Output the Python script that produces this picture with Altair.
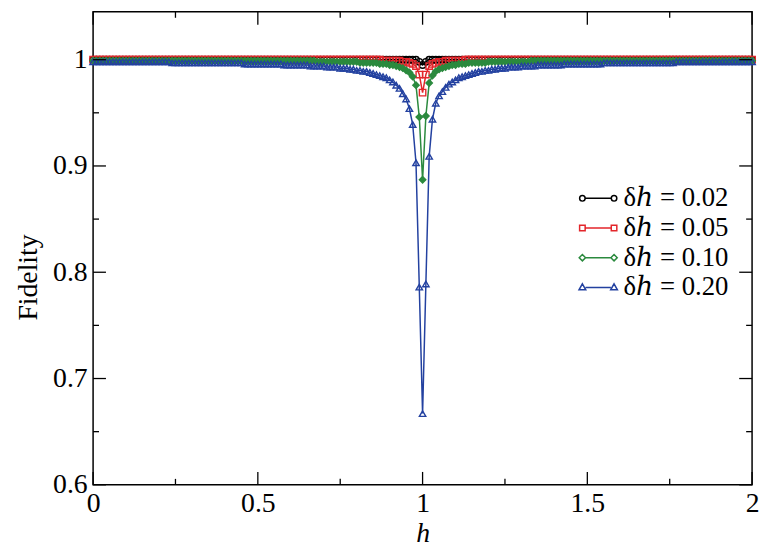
import altair as alt
import pandas as pd
import numpy as np

# x grid (h from 0 to 2 in steps of 0.01)
h_values = np.round(np.arange(201) * 0.01, 2).tolist()

series_labels = ["δℎ = 0.02", "δℎ = 0.05", "δℎ = 0.10", "δℎ = 0.20"]
series_colors = ["#000000", "#e3262b", "#2b8a3e", "#2341a0"]
marker_shapes = ["circle", "square", "diamond", "triangle-up"]
marker_fills = ["transparent", "transparent", "#2b8a3e", "transparent"]

# legend symbols: short line with a marker at both ends
legend_paths = [
    "M-1.32,0L1.32,0M-1.88,0A0.28,0.28 0 1,0 -1.32,0A0.28,0.28 0 1,0 -1.88,0M1.32,0A0.28,0.28 0 1,0 1.88,0A0.28,0.28 0 1,0 1.32,0",
    "M-1.32,0L1.32,0M-1.88,-0.28h0.56v0.56h-0.56ZM1.32,-0.28h0.56v0.56h-0.56Z",
    "M-1.28,0L1.28,0M-1.6,-0.32L-1.28,0L-1.6,0.32L-1.92,0ZM1.6,-0.32L1.92,0L1.6,0.32L1.28,0Z",
    "M-1.28,0L1.28,0M-1.6,-0.36L-1.26,0.24L-1.94,0.24ZM1.6,-0.36L1.94,0.24L1.26,0.24Z",
]

fid_002 = [
    1.0, 1.0, 1.0, 1.0, 1.0, 1.0, 1.0, 1.0, 1.0, 1.0,
    1.0, 1.0, 1.0, 1.0, 1.0, 1.0, 1.0, 1.0, 1.0, 1.0,
    1.0, 1.0, 1.0, 1.0, 1.0, 1.0, 1.0, 1.0, 1.0, 1.0,
    1.0, 1.0, 1.0, 1.0, 1.0, 1.0, 1.0, 1.0, 1.0, 1.0,
    1.0, 1.0, 1.0, 1.0, 1.0, 1.0, 1.0, 1.0, 1.0, 1.0,
    1.0, 1.0, 1.0, 1.0, 1.0, 1.0, 1.0, 1.0, 1.0, 1.0,
    1.0, 1.0, 1.0, 1.0, 1.0, 1.0, 1.0, 1.0, 1.0, 1.0,
    1.0, 1.0, 1.0, 1.0, 1.0, 1.0, 1.0, 1.0, 1.0, 1.0,
    1.0, 1.0, 1.0, 1.0, 1.0, 1.0, 1.0, 1.0, 1.0, 1.0,
    1.0, 1.0, 1.0, 1.0, 1.0, 1.0, 1.0, 1.0, 1.0, 0.998,
    0.995, 0.998, 1.0, 1.0, 1.0, 1.0, 1.0, 1.0, 1.0, 1.0,
    1.0, 1.0, 1.0, 1.0, 1.0, 1.0, 1.0, 1.0, 1.0, 1.0,
    1.0, 1.0, 1.0, 1.0, 1.0, 1.0, 1.0, 1.0, 1.0, 1.0,
    1.0, 1.0, 1.0, 1.0, 1.0, 1.0, 1.0, 1.0, 1.0, 1.0,
    1.0, 1.0, 1.0, 1.0, 1.0, 1.0, 1.0, 1.0, 1.0, 1.0,
    1.0, 1.0, 1.0, 1.0, 1.0, 1.0, 1.0, 1.0, 1.0, 1.0,
    1.0, 1.0, 1.0, 1.0, 1.0, 1.0, 1.0, 1.0, 1.0, 1.0,
    1.0, 1.0, 1.0, 1.0, 1.0, 1.0, 1.0, 1.0, 1.0, 1.0,
    1.0, 1.0, 1.0, 1.0, 1.0, 1.0, 1.0, 1.0, 1.0, 1.0,
    1.0, 1.0, 1.0, 1.0, 1.0, 1.0, 1.0, 1.0, 1.0, 1.0,
    1.0,
]

fid_005 = [
    1.0, 1.0, 1.0, 1.0, 1.0, 1.0, 1.0, 1.0, 1.0, 1.0,
    1.0, 1.0, 1.0, 1.0, 1.0, 1.0, 1.0, 1.0, 1.0, 1.0,
    1.0, 1.0, 1.0, 1.0, 1.0, 1.0, 1.0, 1.0, 1.0, 1.0,
    1.0, 1.0, 1.0, 1.0, 1.0, 1.0, 1.0, 1.0, 1.0, 1.0,
    1.0, 1.0, 1.0, 1.0, 1.0, 1.0, 1.0, 1.0, 1.0, 1.0,
    1.0, 1.0, 1.0, 1.0, 1.0, 1.0, 1.0, 1.0, 1.0, 1.0,
    1.0, 1.0, 1.0, 1.0, 1.0, 1.0, 1.0, 1.0, 1.0, 1.0,
    1.0, 1.0, 1.0, 1.0, 1.0, 1.0, 1.0, 1.0, 1.0, 1.0,
    1.0, 1.0, 1.0, 1.0, 1.0, 1.0, 1.0, 1.0, 0.999, 0.999,
    0.999, 0.999, 0.999, 0.999, 0.998, 0.998, 0.997, 0.996, 0.994, 0.986,
    0.969, 0.986, 0.994, 0.996, 0.997, 0.998, 0.998, 0.999, 0.999, 0.999,
    0.999, 0.999, 0.999, 1.0, 1.0, 1.0, 1.0, 1.0, 1.0, 1.0,
    1.0, 1.0, 1.0, 1.0, 1.0, 1.0, 1.0, 1.0, 1.0, 1.0,
    1.0, 1.0, 1.0, 1.0, 1.0, 1.0, 1.0, 1.0, 1.0, 1.0,
    1.0, 1.0, 1.0, 1.0, 1.0, 1.0, 1.0, 1.0, 1.0, 1.0,
    1.0, 1.0, 1.0, 1.0, 1.0, 1.0, 1.0, 1.0, 1.0, 1.0,
    1.0, 1.0, 1.0, 1.0, 1.0, 1.0, 1.0, 1.0, 1.0, 1.0,
    1.0, 1.0, 1.0, 1.0, 1.0, 1.0, 1.0, 1.0, 1.0, 1.0,
    1.0, 1.0, 1.0, 1.0, 1.0, 1.0, 1.0, 1.0, 1.0, 1.0,
    1.0, 1.0, 1.0, 1.0, 1.0, 1.0, 1.0, 1.0, 1.0, 1.0,
    1.0,
]

fid_010 = [
    0.999, 0.999, 0.999, 0.999, 0.999, 0.999, 0.999, 0.999, 0.999, 0.999,
    0.999, 0.999, 0.999, 0.999, 0.999, 0.999, 0.999, 0.999, 0.999, 0.999,
    0.999, 0.999, 0.999, 0.999, 0.999, 0.999, 0.999, 0.999, 0.999, 0.999,
    0.999, 0.999, 0.999, 0.999, 0.999, 0.999, 0.999, 0.999, 0.999, 0.999,
    0.999, 0.999, 0.999, 0.999, 0.999, 0.999, 0.999, 0.999, 0.999, 0.999,
    0.999, 0.999, 0.999, 0.999, 0.999, 0.999, 0.999, 0.999, 0.999, 0.999,
    0.999, 0.999, 0.999, 0.999, 0.999, 0.999, 0.999, 0.999, 0.998, 0.998,
    0.998, 0.998, 0.998, 0.998, 0.998, 0.998, 0.998, 0.998, 0.998, 0.998,
    0.998, 0.997, 0.997, 0.997, 0.997, 0.997, 0.997, 0.996, 0.996, 0.996,
    0.995, 0.995, 0.994, 0.993, 0.992, 0.990, 0.988, 0.984, 0.976, 0.946,
    0.887, 0.947, 0.978, 0.985, 0.989, 0.991, 0.992, 0.993, 0.994, 0.995,
    0.995, 0.996, 0.996, 0.996, 0.997, 0.997, 0.997, 0.997, 0.997, 0.997,
    0.998, 0.998, 0.998, 0.998, 0.998, 0.998, 0.998, 0.998, 0.998, 0.998,
    0.998, 0.998, 0.998, 0.999, 0.999, 0.999, 0.999, 0.999, 0.999, 0.999,
    0.999, 0.999, 0.999, 0.999, 0.999, 0.999, 0.999, 0.999, 0.999, 0.999,
    0.999, 0.999, 0.999, 0.999, 0.999, 0.999, 0.999, 0.999, 0.999, 0.999,
    0.999, 0.999, 0.999, 0.999, 0.999, 0.999, 0.999, 0.999, 0.999, 0.999,
    0.999, 0.999, 0.999, 0.999, 0.999, 0.999, 0.999, 0.999, 0.999, 0.999,
    0.999, 0.999, 0.999, 0.999, 0.999, 0.999, 0.999, 0.999, 0.999, 0.999,
    0.999, 0.999, 0.999, 0.999, 0.999, 0.999, 0.999, 0.999, 0.999, 0.999,
    0.999,
]

fid_020 = [
    0.998, 0.998, 0.998, 0.998, 0.998, 0.998, 0.998, 0.998, 0.998, 0.998,
    0.998, 0.998, 0.998, 0.998, 0.998, 0.998, 0.998, 0.998, 0.998, 0.998,
    0.998, 0.998, 0.998, 0.998, 0.997, 0.997, 0.997, 0.997, 0.997, 0.997,
    0.997, 0.997, 0.997, 0.997, 0.997, 0.997, 0.997, 0.997, 0.997, 0.997,
    0.997, 0.997, 0.997, 0.997, 0.997, 0.997, 0.996, 0.996, 0.996, 0.996,
    0.996, 0.996, 0.996, 0.996, 0.996, 0.996, 0.996, 0.996, 0.995, 0.995,
    0.995, 0.995, 0.995, 0.995, 0.995, 0.995, 0.994, 0.994, 0.994, 0.994,
    0.994, 0.993, 0.993, 0.993, 0.993, 0.992, 0.992, 0.992, 0.991, 0.991,
    0.990, 0.990, 0.989, 0.989, 0.988, 0.987, 0.986, 0.985, 0.984, 0.983,
    0.981, 0.979, 0.976, 0.973, 0.968, 0.963, 0.954, 0.939, 0.903, 0.786,
    0.667, 0.789, 0.909, 0.944, 0.959, 0.966, 0.970, 0.974, 0.977, 0.979,
    0.981, 0.983, 0.984, 0.985, 0.986, 0.987, 0.988, 0.989, 0.989, 0.990,
    0.990, 0.991, 0.991, 0.992, 0.992, 0.992, 0.993, 0.993, 0.993, 0.993,
    0.994, 0.994, 0.994, 0.994, 0.994, 0.995, 0.995, 0.995, 0.995, 0.995,
    0.995, 0.995, 0.995, 0.996, 0.996, 0.996, 0.996, 0.996, 0.996, 0.996,
    0.996, 0.996, 0.996, 0.996, 0.996, 0.997, 0.997, 0.997, 0.997, 0.997,
    0.997, 0.997, 0.997, 0.997, 0.997, 0.997, 0.997, 0.997, 0.997, 0.997,
    0.997, 0.997, 0.997, 0.997, 0.997, 0.997, 0.997, 0.998, 0.998, 0.998,
    0.998, 0.998, 0.998, 0.998, 0.998, 0.998, 0.998, 0.998, 0.998, 0.998,
    0.998, 0.998, 0.998, 0.998, 0.998, 0.998, 0.998, 0.998, 0.998, 0.998,
    0.998,
]

x_major = [0, 0.5, 1, 1.5, 2]
x_minor = [0.25, 0.75, 1.25, 1.75]
y_major = [0.6, 0.7, 0.8, 0.9, 1.0]
y_minor = [0.65, 0.75, 0.85, 0.95]

W, H = 666, 478
FONT = "Liberation Serif, DejaVu Serif, serif"

rows = []
for lab, vals in zip(series_labels, [fid_002, fid_005, fid_010, fid_020]):
    for hv, fv in zip(h_values, vals):
        rows.append({"h": hv, "F": fv, "series": lab})
df = pd.DataFrame(rows)

x_enc = alt.X(
    "h:Q",
    scale=alt.Scale(domain=[0, 2], nice=False),
    axis=alt.Axis(values=x_major, labelExpr="format(datum.value, '~g')",
                  title="h", titleFontStyle="italic", labelPadding=5,
                  titlePadding=2, labelFlush=False),
)
y_enc = alt.Y(
    "F:Q",
    scale=alt.Scale(domain=[0.6, 1.045], nice=False, zero=False),
    axis=alt.Axis(values=y_major, labelExpr="format(datum.value, '~g')",
                  title="Fidelity", labelPadding=6, titlePadding=10,
                  titleY=268, labelFlush=False),
)

color_scale = alt.Scale(domain=series_labels, range=series_colors)

lines = alt.Chart(df).mark_line(strokeWidth=1.5).encode(
    x=x_enc, y=y_enc,
    color=alt.Color("series:N", scale=color_scale, legend=None),
    detail="series:N",
)

points = alt.Chart(df).mark_point(size=42, strokeWidth=1.4, filled=False, opacity=1).encode(
    x="h:Q", y="F:Q",
    color=alt.Color("series:N", scale=color_scale, legend=None),
    fill=alt.Fill("series:N", scale=alt.Scale(domain=series_labels, range=marker_fills), legend=None),
    shape=alt.Shape("series:N", scale=alt.Scale(domain=series_labels, range=marker_shapes), legend=None),
)

legend_df = pd.DataFrame({"h": [1.0] * 4, "F": [1.0] * 4, "series": series_labels})
legend_layer = alt.Chart(legend_df).mark_point(opacity=0, filled=False).encode(
    x="h:Q", y="F:Q",
    color=alt.Color("series:N", scale=color_scale,
                    legend=alt.Legend(orient="none", legendX=497, legendY=175, title=None,
                                      labelFont=FONT, labelFontSize=27, labelColor="black",
                                      symbolSize=400, symbolStrokeWidth=1.5,
                                      labelOffset=12, rowPadding=2, symbolOpacity=1)),
    shape=alt.Shape("series:N", scale=alt.Scale(domain=series_labels, range=legend_paths)),
)

tick_color = "black"
xmaj_df = pd.DataFrame({"h": x_major})
xmin_df = pd.DataFrame({"h": x_minor})
ymaj_df = pd.DataFrame({"F": y_major})
ymin_df = pd.DataFrame({"F": y_minor})

tick_layers = [
    alt.Chart(xmaj_df).mark_rule(color=tick_color, strokeWidth=1.3).encode(
        x="h:Q", y=alt.value(H), y2=alt.value(H - 13)),
    alt.Chart(xmaj_df).mark_rule(color=tick_color, strokeWidth=1.3).encode(
        x="h:Q", y=alt.value(0), y2=alt.value(13)),
    alt.Chart(xmin_df).mark_rule(color=tick_color, strokeWidth=1.3).encode(
        x="h:Q", y=alt.value(H), y2=alt.value(H - 6)),
    alt.Chart(xmin_df).mark_rule(color=tick_color, strokeWidth=1.3).encode(
        x="h:Q", y=alt.value(0), y2=alt.value(6)),
    alt.Chart(ymaj_df).mark_rule(color=tick_color, strokeWidth=1.3).encode(
        y="F:Q", x=alt.value(0), x2=alt.value(13)),
    alt.Chart(ymaj_df).mark_rule(color=tick_color, strokeWidth=1.3).encode(
        y="F:Q", x=alt.value(W), x2=alt.value(W - 13)),
    alt.Chart(ymin_df).mark_rule(color=tick_color, strokeWidth=1.3).encode(
        y="F:Q", x=alt.value(0), x2=alt.value(6)),
    alt.Chart(ymin_df).mark_rule(color=tick_color, strokeWidth=1.3).encode(
        y="F:Q", x=alt.value(W), x2=alt.value(W - 6)),
]

chart = alt.layer(lines, points, legend_layer, *tick_layers).resolve_scale(
    color="independent", shape="independent", fill="independent"
).properties(
    width=W, height=H,
    padding={"left": 7, "top": 0, "right": 0, "bottom": 0},
    background="white",
).configure_view(
    stroke="black", strokeWidth=1.5
).configure_axis(
    grid=False, domain=False, ticks=False,
    labelFont=FONT, labelFontSize=28, labelColor="black",
    titleFont=FONT, titleFontSize=28, titleFontWeight="normal", titleColor="black",
)

chart.save("out.html", embed_options={"renderer": "svg", "actions": False})
